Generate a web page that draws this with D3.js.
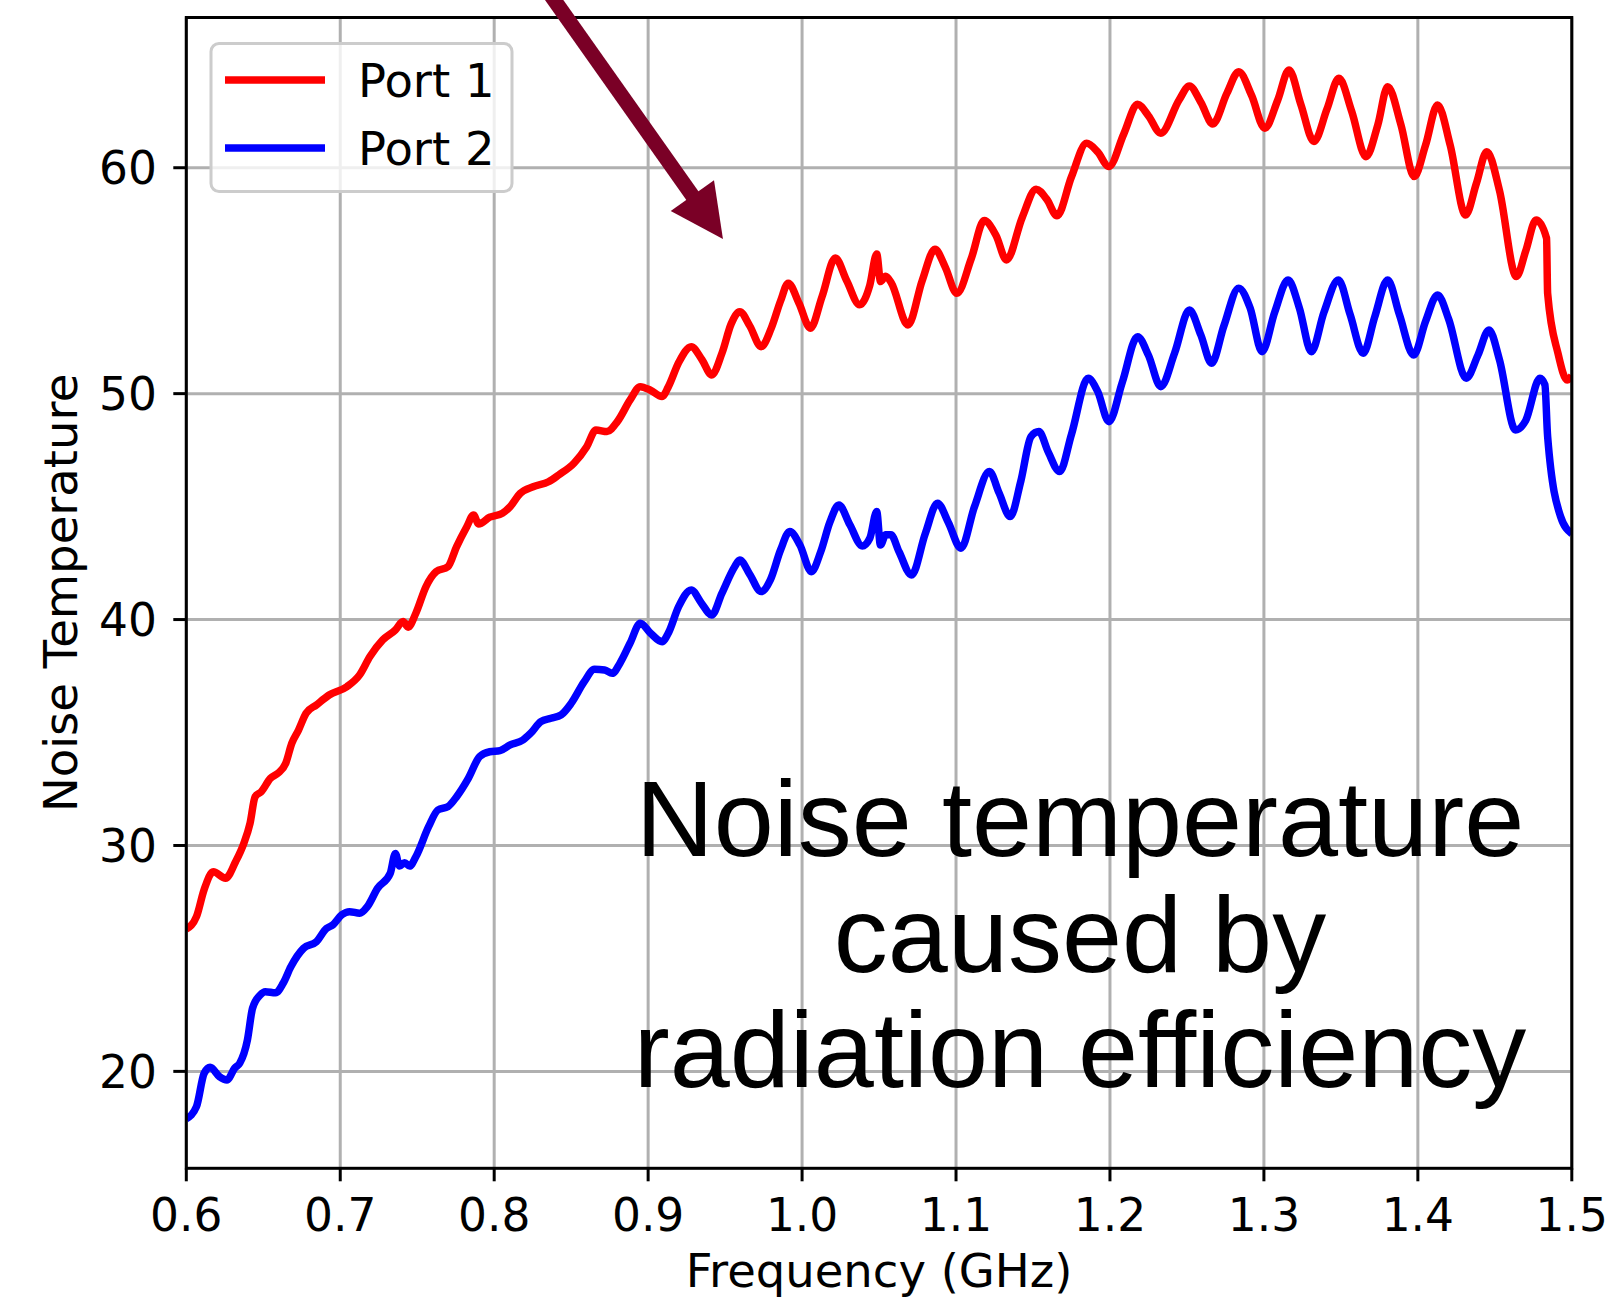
<!DOCTYPE html>
<html lang="en">
<head>
  <meta charset="UTF-8" />
  <title>Noise Temperature vs Frequency</title>
  <script src="https://d3js.org/d3.v7.min.js"></script>
  <style>
    body {
      margin: 0;
      background: white;
    }
    svg {
      display: block;
      font-family: "DejaVu Sans", sans-serif;
    }
    .tick-label {
      font-size: 45.5px;
      fill: black;
    }
    .axis-label {
      font-size: 46.5px;
      fill: black;
    }
    .legend-label {
      font-size: 46.5px;
      fill: black;
    }
    .note {
      font-family: "Liberation Sans", Arial, Helvetica, sans-serif;
      font-size: 108px;
      fill: black;
    }
  </style>
</head>
<body>
  <svg id="chart" width="1614" height="1299"></svg>

  <script>
    // values
    const xTicks = [0.6, 0.7, 0.8, 0.9, 1.0, 1.1, 1.2, 1.3, 1.4, 1.5];
    const yTicks = [20, 30, 40, 50, 60];

    const port1Freq = [
      0.600, 0.6066, 0.6115, 0.6175, 0.6255, 0.632, 0.6374, 0.6414, 0.6447, 0.6487,
      0.6546, 0.6596, 0.6646, 0.6685, 0.6729, 0.6778, 0.6845, 0.6928, 0.7043, 0.7126,
      0.7193, 0.7276, 0.7358, 0.7408, 0.7441, 0.7491, 0.7557, 0.7623, 0.770, 0.7756,
      0.7822, 0.7866, 0.7899, 0.7971, 0.8055, 0.8104, 0.817, 0.8253, 0.8353, 0.8419,
      0.8518, 0.8601, 0.8661, 0.8733, 0.880, 0.8883, 0.8949, 0.9015, 0.909, 0.9131,
      0.920, 0.928, 0.935, 0.9413, 0.948, 0.954, 0.9595, 0.966, 0.9734, 0.980,
      0.986, 0.991, 0.998, 1.0054, 1.013, 1.0216, 1.029, 1.0374, 1.044, 1.0485,
      1.051, 1.0543, 1.058, 1.0688, 1.078, 1.0863, 1.093, 1.1005, 1.110, 1.1183,
      1.126, 1.1328, 1.143, 1.152, 1.159, 1.1656, 1.175, 1.1848, 1.192, 1.1993,
      1.209, 1.2179, 1.225, 1.233, 1.2449, 1.2516, 1.259, 1.2668, 1.276, 1.2836,
      1.292, 1.3005, 1.309, 1.3163, 1.324, 1.3325, 1.341, 1.3487, 1.357, 1.3663,
      1.374, 1.3804, 1.389, 1.3976, 1.405, 1.4128, 1.421, 1.431, 1.438, 1.4448,
      1.453, 1.464, 1.470, 1.4768, 1.4836, 1.4843, 1.491, 1.497, 1.500
    ];
    const port1Temp = [
      26.3, 26.85, 28.03, 28.84, 28.55, 29.28, 30.1, 30.98, 32.16, 32.38,
      32.97, 33.2, 33.64, 34.52, 35.11, 35.85, 36.22, 36.66, 37.03, 37.55,
      38.36, 39.1, 39.54, 39.91, 39.66, 40.28, 41.46, 42.12, 42.34, 43.23,
      44.11, 44.63, 44.23, 44.53, 44.71, 45.0, 45.59, 45.88, 46.1, 46.4,
      46.92, 47.65, 48.39, 48.32, 48.76, 49.72, 50.31, 50.15, 49.87, 50.3,
      51.4, 52.08, 51.5, 50.83, 51.8, 53.1, 53.63, 53.0, 52.08, 52.9,
      54.1, 54.89, 54.0, 52.9, 54.3, 56.0, 55.0, 53.93, 54.8, 56.18,
      54.96, 55.2, 54.9, 53.04, 55.0, 56.39, 55.6, 54.44, 56.0, 57.66,
      57.0, 55.92, 57.8, 59.05, 58.6, 57.87, 59.6, 61.08, 60.7, 60.05,
      61.5, 62.81, 62.3, 61.53, 63.0, 63.62, 62.9, 61.94, 63.3, 64.25,
      63.2, 61.75, 63.0, 64.33, 62.8, 61.16, 62.6, 63.96, 62.5, 60.49,
      61.9, 63.59, 61.9, 59.61, 61.0, 62.78, 61.0, 57.91, 59.3, 60.71,
      59.0, 55.18, 56.3, 57.69, 56.88, 54.44, 51.79, 50.6, 50.8
    ];

    const port2Freq = [
      0.600, 0.6066, 0.6116, 0.6155, 0.6215, 0.6264, 0.6314, 0.6347, 0.6397, 0.643,
      0.648, 0.6513, 0.658, 0.6629, 0.6679, 0.6762, 0.6845, 0.6911, 0.6951, 0.701,
      0.706, 0.7126, 0.7176, 0.7242, 0.7325, 0.7358, 0.7385, 0.7418, 0.7451, 0.7491,
      0.7574, 0.7634, 0.770, 0.7756, 0.7832, 0.7905, 0.7971, 0.8038, 0.8104, 0.8187,
      0.8237, 0.8303, 0.8369, 0.8435, 0.8501, 0.8585, 0.8651, 0.8717, 0.8767, 0.8817,
      0.8883, 0.8949, 0.9015, 0.9091, 0.9131, 0.9198, 0.928, 0.9347, 0.9413, 0.9479,
      0.9562, 0.9595, 0.966, 0.9734, 0.9794, 0.986, 0.992, 0.9986, 1.006, 1.0121,
      1.018, 1.0239, 1.031, 1.0391, 1.044, 1.0485, 1.0509, 1.0543, 1.0577, 1.063,
      1.0711, 1.080, 1.088, 1.095, 1.1032, 1.112, 1.1217, 1.128, 1.1352, 1.142,
      1.1487, 1.1538, 1.160, 1.1673, 1.175, 1.1858, 1.192, 1.1993, 1.208, 1.2179,
      1.225, 1.233, 1.242, 1.2516, 1.259, 1.266, 1.274, 1.2836, 1.291, 1.2988,
      1.307, 1.3157, 1.323, 1.3308, 1.339, 1.3484, 1.356, 1.3645, 1.372, 1.3804,
      1.388, 1.3973, 1.405, 1.4128, 1.420, 1.4314, 1.439, 1.4462, 1.453, 1.4634,
      1.470, 1.4793, 1.4825, 1.4843, 1.4927, 1.500
    ];
    const port2Temp = [
      17.9, 18.44, 19.92, 20.18, 19.77, 19.62, 20.14, 20.36, 21.39, 22.79,
      23.38, 23.53, 23.48, 23.9, 24.63, 25.45, 25.74, 26.33, 26.48, 26.93,
      27.07, 27.0, 27.29, 28.1, 28.77, 29.65, 29.09, 29.24, 29.09, 29.5,
      30.83, 31.57, 31.72, 32.16, 32.97, 33.93, 34.15, 34.2, 34.45, 34.67,
      34.97, 35.48, 35.63, 35.78, 36.3, 37.25, 37.8, 37.77, 37.62, 38.07,
      38.96, 39.84, 39.4, 39.02, 39.4, 40.57, 41.31, 40.72, 40.2, 41.16,
      42.34, 42.64, 42.0, 41.24, 41.76, 43.08, 43.9, 43.3, 42.12, 43.0,
      44.3, 45.07, 44.2, 43.26, 43.6, 44.78, 43.3, 43.75, 43.75, 43.0,
      41.97, 43.8, 45.15, 44.3, 43.16, 45.0, 46.55, 45.6, 44.56, 46.1,
      48.1, 48.32, 47.4, 46.55, 48.2, 50.68, 50.1, 48.76, 50.5, 52.52,
      51.7, 50.31, 51.8, 53.7, 52.6, 51.35, 53.0, 54.67, 53.8, 51.86,
      53.6, 55.03, 53.8, 51.86, 53.6, 55.03, 53.5, 51.79, 53.4, 55.03,
      53.5, 51.71, 53.2, 54.37, 53.3, 50.68, 51.7, 52.82, 51.5, 48.39,
      48.8, 50.68, 50.4, 48.1, 44.56, 43.8
    ];

    const seriesNames = ["Port 1", "Port 2"];
    const seriesColors = ["#ff0000", "#0000ff"];

    const noteLines = ["Noise temperature", "caused by", "radiation efficiency"];
    // arrow from outside the axes (tail) to the tip, in data units
    const arrowTail = [0.8164, 69.6];
    const arrowTip = [0.9486, 56.85];

    const xDomain = [0.6, 1.5];
    const yDomain = [15.71, 66.65];

    const margin = { left: 186.3, right: 1571.8, top: 17.5, bottom: 1168.3 };

    const svg = d3.select("#chart");

    const x = d3.scaleLinear().domain(xDomain).range([margin.left, margin.right]);
    const y = d3.scaleLinear().domain(yDomain).range([margin.bottom, margin.top]);

    svg.append("defs").append("clipPath")
      .attr("id", "plot-clip")
      .append("rect")
      .attr("x", margin.left)
      .attr("y", margin.top)
      .attr("width", margin.right - margin.left)
      .attr("height", margin.bottom - margin.top);

    // grid
    const grid = svg.append("g").attr("stroke", "#b0b0b0").attr("stroke-width", 3);
    grid.selectAll("line.vx")
      .data(xTicks)
      .join("line")
      .attr("x1", d => x(d)).attr("x2", d => x(d))
      .attr("y1", margin.top).attr("y2", margin.bottom);
    grid.selectAll("line.hy")
      .data(yTicks)
      .join("line")
      .attr("x1", margin.left).attr("x2", margin.right)
      .attr("y1", d => y(d)).attr("y2", d => y(d));

    // series
    const line = d3.line()
      .x(d => x(d[0]))
      .y(d => y(d[1]))
      .curve(d3.curveMonotoneX);

    const series = [
      d3.zip(port1Freq, port1Temp),
      d3.zip(port2Freq, port2Temp)
    ];

    svg.append("g")
      .attr("clip-path", "url(#plot-clip)")
      .selectAll("path")
      .data(series)
      .join("path")
      .attr("d", line)
      .attr("fill", "none")
      .attr("stroke", (d, i) => seriesColors[i])
      .attr("stroke-width", 7.5)
      .attr("stroke-linejoin", "round")
      .attr("stroke-linecap", "butt");

    // spines
    svg.append("rect")
      .attr("x", margin.left)
      .attr("y", margin.top)
      .attr("width", margin.right - margin.left)
      .attr("height", margin.bottom - margin.top)
      .attr("fill", "none")
      .attr("stroke", "black")
      .attr("stroke-width", 3);

    // ticks
    const tickLen = 13;
    svg.append("g")
      .selectAll("line")
      .data(xTicks)
      .join("line")
      .attr("x1", d => x(d)).attr("x2", d => x(d))
      .attr("y1", margin.bottom).attr("y2", margin.bottom + tickLen)
      .attr("stroke", "black").attr("stroke-width", 3);
    svg.append("g")
      .selectAll("text")
      .data(xTicks)
      .join("text")
      .attr("class", "tick-label")
      .attr("x", d => x(d))
      .attr("y", 1231)
      .attr("text-anchor", "middle")
      .text(d => d.toFixed(1));

    svg.append("g")
      .selectAll("line")
      .data(yTicks)
      .join("line")
      .attr("x1", margin.left - tickLen).attr("x2", margin.left)
      .attr("y1", d => y(d)).attr("y2", d => y(d))
      .attr("stroke", "black").attr("stroke-width", 3);
    svg.append("g")
      .selectAll("text")
      .data(yTicks)
      .join("text")
      .attr("class", "tick-label")
      .attr("x", 157)
      .attr("y", d => y(d) + 16.5)
      .attr("text-anchor", "end")
      .text(d => d);

    // axis labels
    svg.append("text")
      .attr("class", "axis-label")
      .attr("x", (margin.left + margin.right) / 2)
      .attr("y", 1287)
      .attr("text-anchor", "middle")
      .text("Frequency (GHz)");

    svg.append("text")
      .attr("class", "axis-label")
      .attr("transform", `translate(77, ${(margin.top + margin.bottom) / 2}) rotate(-90)`)
      .attr("text-anchor", "middle")
      .text("Noise Temperature");

    // note text
    svg.append("g")
      .selectAll("text")
      .data(noteLines)
      .join("text")
      .attr("class", "note")
      .attr("x", 1080)
      .attr("y", (d, i) => 856 + i * 115.5)
      .attr("text-anchor", "middle")
      .text(d => d);

    // arrow
    const tail = [x(arrowTail[0]), y(arrowTail[1])];
    const tip = [x(arrowTip[0]), y(arrowTip[1])];
    const dx = tip[0] - tail[0], dy = tip[1] - tail[1];
    const len = Math.hypot(dx, dy);
    const ux = dx / len, uy = dy / len;
    const headLen = 53, headHalf = 26.5;
    const base = [tip[0] - ux * headLen, tip[1] - uy * headLen];
    const arrowColor = "#7a0026";
    svg.append("line")
      .attr("x1", tail[0]).attr("y1", tail[1])
      .attr("x2", base[0] + ux * 2).attr("y2", base[1] + uy * 2)
      .attr("stroke", arrowColor)
      .attr("stroke-width", 15);
    svg.append("polygon")
      .attr("points", [
        tip,
        [base[0] - uy * headHalf, base[1] + ux * headHalf],
        [base[0] + uy * headHalf, base[1] - ux * headHalf]
      ].map(p => p.join(",")).join(" "))
      .attr("fill", arrowColor);

    // legend
    const legend = svg.append("g");
    legend.append("rect")
      .attr("x", 211).attr("y", 43.5)
      .attr("width", 301).attr("height", 148)
      .attr("rx", 8)
      .attr("fill", "white").attr("fill-opacity", 0.8)
      .attr("stroke", "#cccccc").attr("stroke-width", 3);
    const item = legend.selectAll("g.item")
      .data(seriesNames)
      .join("g")
      .attr("transform", (d, i) => `translate(0, ${80 + i * 68})`);
    item.append("line")
      .attr("x1", 225).attr("x2", 325)
      .attr("stroke", (d, i) => seriesColors[i])
      .attr("stroke-width", 7.5);
    item.append("text")
      .attr("class", "legend-label")
      .attr("x", 358)
      .attr("y", 16.5)
      .text(d => d);
  </script>
</body>
</html>
